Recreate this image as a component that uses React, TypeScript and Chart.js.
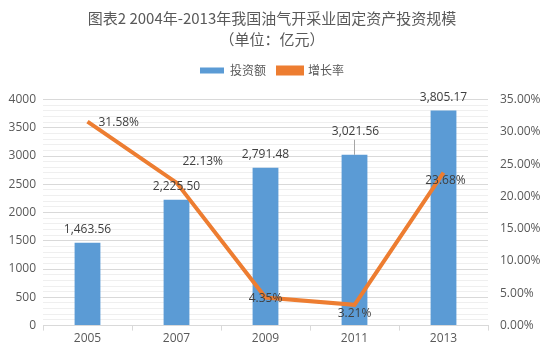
import React, { useEffect, useRef } from "react";
import { Chart, registerables } from "chart.js";

Chart.register(...registerables);

const years = ["2005", "2007", "2009", "2011", "2013"];
const investment = [1463.56, 2225.5, 2791.48, 3021.56, 3805.17];
const growthRate = [31.58, 22.13, 4.35, 3.21, 23.68];
const titleLines = ["图表2 2004年-2013年我国油气开采业固定资产投资规模", "（单位：亿元）"];
const seriesNames = ["投资额", "增长率"];

const BLUE = "#5B9BD5";
const ORANGE = "#ED7D31";
const TEXT = "#595959";
const FONT = '"Open Sans", "Noto Sans CJK SC", sans-serif';

// label placement styles per point (not coordinates)
const barLabelMode = ["above", "above", "above", "leader", "above"];
const lineLabelMode = ["right", "aboveRight", "center", "below", "belowCenter"];

const legendSpacer = {
  id: "legendSpacer",
  beforeInit(chart: any) {
    const legend = chart.legend;
    if (!legend) return;
    const fit = legend.fit;
    legend.fit = function () {
      fit.bind(legend)();
      this.height += 13;
    };
  },
};

const labelPlugin = {
  id: "valueLabels",
  afterDatasetsDraw(chart: any) {
    const ctx = chart.ctx;
    ctx.save();
    ctx.font = `12px ${FONT}`;
    ctx.fillStyle = "#404040";
    ctx.textBaseline = "middle";
    const barMeta = chart.getDatasetMeta(0);
    barMeta.data.forEach((el: any, i: number) => {
      const v = investment[i];
      const txt = v.toLocaleString("en-US", { minimumFractionDigits: 2, maximumFractionDigits: 2 });
      ctx.textAlign = "center";
      if (barLabelMode[i] === "leader") {
        const ty = el.y - 23;
        ctx.fillText(txt, el.x + 1, ty);
        ctx.strokeStyle = "#A6A6A6";
        ctx.lineWidth = 1;
        ctx.beginPath();
        ctx.moveTo(el.x, ty + 8);
        ctx.lineTo(el.x, el.y);
        ctx.stroke();
      } else {
        ctx.fillText(txt, el.x, el.y - 13);
      }
    });
    const lineMeta = chart.getDatasetMeta(1);
    lineMeta.data.forEach((el: any, i: number) => {
      const txt = growthRate[i].toFixed(2) + "%";
      const m = lineLabelMode[i];
      if (m === "right") {
        ctx.textAlign = "left";
        ctx.fillText(txt, el.x + 11, el.y + 1);
      } else if (m === "aboveRight") {
        ctx.textAlign = "left";
        ctx.fillText(txt, el.x + 6, el.y - 21);
      } else if (m === "center") {
        ctx.textAlign = "center";
        ctx.fillText(txt, el.x, el.y + 1);
      } else if (m === "below") {
        ctx.textAlign = "center";
        ctx.fillText(txt, el.x, el.y + 9);
      } else {
        ctx.textAlign = "center";
        ctx.fillText(txt, el.x + 2, el.y + 8);
      }
    });
    ctx.restore();
  },
};

export default function App() {
  const ref = useRef<HTMLCanvasElement | null>(null);
  useEffect(() => {
    if (!ref.current) return;
    const chart = new Chart(ref.current, {
      type: "bar",
      data: {
        labels: years,
        datasets: [
          {
            type: "bar",
            label: seriesNames[0],
            data: investment,
            backgroundColor: BLUE,
            borderWidth: 0,
            barPercentage: 0.29,
            categoryPercentage: 1,
            yAxisID: "y",
            order: 2,
          },
          {
            type: "line",
            label: seriesNames[1],
            data: growthRate,
            borderColor: ORANGE,
            backgroundColor: ORANGE,
            borderWidth: 4,
            pointRadius: 0,
            tension: 0,
            yAxisID: "y1",
            order: 1,
          } as any,
        ],
      },
      options: {
        animation: false,
        responsive: false,
        maintainAspectRatio: false,
        layout: { padding: { left: 4, right: 4, top: 0, bottom: 5 } },
        plugins: {
          title: {
            display: true,
            text: titleLines,
            color: TEXT,
            font: { family: '"Noto Sans CJK SC", sans-serif', size: 15, weight: "normal", lineHeight: 1.45 },
            padding: { top: 7, bottom: 2 },
          },
          legend: {
            display: true,
            position: "top",
            labels: {
              color: TEXT,
              font: { family: '"Noto Sans CJK SC", sans-serif', size: 12 },
              boxWidth: 24,
              boxHeight: 6,
              padding: 12,
              sort: (a: any, b: any) => a.datasetIndex - b.datasetIndex,
            },
          },
          tooltip: { enabled: false },
        },
        scales: {
          x: {
            offset: true,
            grid: {
              display: true,
              drawOnChartArea: false,
              offset: true,
              color: "#D9D9D9",
              tickLength: 5,
            },
            border: { color: "#D9D9D9" },
            ticks: { color: TEXT, font: { family: FONT, size: 12 }, padding: 1 },
          },
          y: {
            position: "left",
            min: 0,
            max: 4000,
            afterFit: (s: any) => {
              s.width = 39;
            },
            grid: {
              color: (c: any) => (c.tick && c.tick.value % 500 === 0 ? "#D9D9D9" : "#EFEFEF"),
              drawTicks: false,
            },
            border: { display: false },
            ticks: {
              stepSize: 100,
              autoSkip: false,
              color: TEXT,
              font: { family: FONT, size: 12 },
              padding: 7,
              callback: (v: any) => (Number(v) % 500 === 0 ? String(v) : ""),
            },
          },
          y1: {
            position: "right",
            min: 0,
            max: 35,
            afterFit: (s: any) => {
              s.width = 52;
            },
            grid: { drawOnChartArea: false, drawTicks: false },
            border: { display: false },
            ticks: {
              stepSize: 5,
              color: TEXT,
              font: { family: FONT, size: 12 },
              padding: 12,
              callback: (v: any) => Number(v).toFixed(2) + "%",
            },
          },
        },
      },
      plugins: [legendSpacer, labelPlugin],
    } as any);
    return () => chart.destroy();
  }, []);
  return (
    <div style={{ position: "absolute", left: 0, top: 0, width: 544, height: 352, background: "#fff" }}>
      <canvas ref={ref} width={544} height={352} style={{ width: 544, height: 352 }} />
    </div>
  );
}
